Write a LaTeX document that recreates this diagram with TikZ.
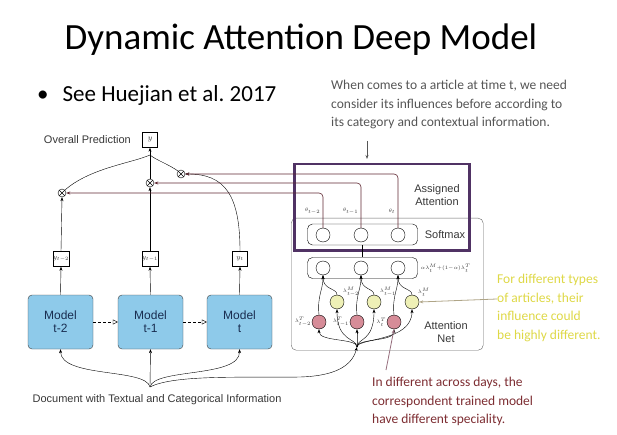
\documentclass[tikz,border=0pt]{standalone}
\usepackage{fontspec}
\setmainfont{Liberation Sans}
\newfontfamily\slidefont{Carlito}
\usetikzlibrary{arrows.meta,positioning}

\definecolor{modelblue}{RGB}{142,202,234}
\definecolor{attnpurple}{RGB}{80,50,100}
\definecolor{linkred}{RGB}{95,40,50}
\definecolor{lampink}{RGB}{214,140,152}
\definecolor{lamyellow}{RGB}{238,240,182}
\definecolor{notegray}{RGB}{85,85,85}
\definecolor{noteyellow}{RGB}{222,216,70}
\definecolor{notered}{RGB}{125,45,50}
\definecolor{diagtext}{RGB}{55,55,55}

\begin{document}
\begin{tikzpicture}[x=1pt, y=-1pt, >={Stealth[length=4pt,width=3pt]},
	model/.style={draw=black!75, fill=modelblue, rounded corners=4pt, minimum width=65pt, minimum height=54pt, align=center, font=\fontsize{12}{13}\selectfont, text={rgb,255:red,25;green,45;blue,80}},
	ybox/.style={draw, fill=white, inner sep=0pt, minimum width=15pt, minimum height=15pt, font=\fontsize{7}{8}\selectfont, text=diagtext},
	mult/.style={circle, draw, fill=white, inner sep=0pt, minimum size=8pt, path picture={\draw (path picture bounding box.north west) -- (path picture bounding box.south east) (path picture bounding box.north east) -- (path picture bounding box.south west);}},
	unit/.style={circle, draw, fill=white, inner sep=0pt, minimum size=14pt},
	lamT/.style={unit, fill=lampink},
	lamM/.style={unit, fill=lamyellow},
	layer/.style={draw, rounded corners=5pt, minimum width=110pt, minimum height=21pt},
	small/.style={font=\fontsize{5.5}{6}\selectfont, text=diagtext, inner sep=0.5pt},
	label/.style={font=\fontsize{11}{13}\selectfont, text=diagtext, align=center},
	note/.style={font=\slidefont\fontsize{13.5}{18.5}\selectfont, align=left, inner sep=0pt},
	link/.style={->, draw=linkred, line width=0.6pt, rounded corners=4pt}]
	\useasboundingbox (0,0) rectangle (617,435);

	% slide text
	\node[font=\slidefont\fontsize{37}{40}\selectfont] (title) at (301,40) {Dynamic Attention Deep Model};
	\node[font=\slidefont\fontsize{23}{26}\selectfont, anchor=west, inner sep=0pt] (ref) at (37,95) {\textbullet\hspace{14pt}See Huejian et al.\ 2017};
	\node[note, text=notegray, anchor=north west] (topnote) at (331,80) {When comes to a article at time t, we need\\consider its influences before according to\\its category and contextual information.};

	% boxes on the right
	\node[draw=black!60, rounded corners=5pt, anchor=north west, minimum width=192pt, minimum height=132pt] (attnnet) at (291,218) {};
	\node[draw=attnpurple, line width=2.5pt, anchor=north west, minimum width=175pt, minimum height=86pt] (assign) at (293,163) {};
	\node[label, anchor=north] at (437,181) {Assigned\\Attention};
	\node[label, anchor=north] at (446,318) {Attention\\Net};

	% softmax and mixing layers
	\node[layer] (softmax) at (362.5,234.5) {};
	\node[layer] (mix) at (362.5,268) {};
	\node[label] at (445,235) {Softmax};
	\node[small, anchor=west] at (420,268) {$\alpha\lambda^{M}_{t}{+}(1{-}\alpha)\lambda^{T}_{t}$};
	\node[unit] (s1) at (323,235) {};
	\node[unit] (s2) at (361,235) {};
	\node[unit] (s3) at (398,235) {};
	\node[unit] (m1) at (323,268) {};
	\node[unit] (m2) at (361,268) {};
	\node[unit] (m3) at (398,268) {};
	\draw (softmax.south) -- (mix.north);
	\node[small, anchor=east] at (321,211) {$\theta_{t-2}$};
	\node[small, anchor=east] at (359,211) {$\theta_{t-1}$};
	\node[small, anchor=east] at (396,211) {$\theta_{t}$};

	% attention net units
	\node[lamT] (p1) at (319,322) {};
	\node[lamT] (p2) at (357,322) {};
	\node[lamT] (p3) at (394,322) {};
	\node[lamM] (q1) at (337,302) {};
	\node[lamM] (q2) at (374,302) {};
	\node[lamM] (q3) at (412,302) {};
	\node[small, anchor=east] at (p1.west) {$\lambda^{T}_{t-2}$};
	\node[small, anchor=east] at (p2.west) {$\lambda^{T}_{t-1}$};
	\node[small, anchor=east] at (p3.west) {$\lambda^{T}_{t}$};
	\node[small, anchor=south west] at (q1.north east) {$\lambda^{M}_{t-2}$};
	\node[small, anchor=south west] at (q2.north east) {$\lambda^{M}_{t-1}$};
	\node[small, anchor=south west] at (q3.north east) {$\lambda^{M}_{t}$};
	\coordinate (netin) at (357,347);
	\foreach \n in {p1,p2,p3,q1,q2,q3}
		\draw[->] (netin) .. controls (357,338) and (\n.south |- 0,342) .. (\n.south);
	\draw[->] (p1.north) .. controls (317,296) and (323,290) .. (m1.south);
	\draw[->] (q1.north) .. controls (337,288) and (323,290) .. (m1.south);
	\draw[->] (p2.north) .. controls (355,296) and (361,290) .. (m2.south);
	\draw[->] (q2.north) .. controls (374,288) and (361,290) .. (m2.south);
	\draw[->] (p3.north) .. controls (392,296) and (398,290) .. (m3.south);
	\draw[->] (q3.north) .. controls (412,288) and (398,290) .. (m3.south);

	% models and predictions
	\node[model] (mt2) at (60.5,322) {Model\\t-2};
	\node[model] (mt1) at (150.5,322) {Model\\t-1};
	\node[model] (mt) at (239.5,322) {Model\\t};
	\draw[densely dashed, -{Triangle[open,length=5pt,width=5pt]}] (mt2) -- (mt1);
	\draw[densely dashed, -{Triangle[open,length=5pt,width=5pt]}] (mt1) -- (mt);
	\node[ybox] (yt2) at (61,259) {$y_{t-2}$};
	\node[ybox] (yt1) at (150,259) {$y_{t-1}$};
	\node[ybox] (yt) at (240,259) {$y_{t}$};
	\foreach \a/\b in {mt2/yt2, mt1/yt1, mt/yt}
		\draw[->] (\a.north) -- (\b.south);
	\node[mult] (xt2) at (62,193) {};
	\node[mult] (xt1) at (150,183) {};
	\node[mult] (xt) at (181,174) {};
	\node[ybox, font=\fontsize{8}{9}\selectfont] (yall) at (150,140) {$y$};
	\node[label, left=8pt of yall] (overall) {Overall Prediction};
	\coordinate (merge) at (150,155);
	\draw[->] (yt2.north) -- (xt2.south);
	\draw[->] (yt1.north) -- (xt1.south);
	\draw[->] (yt.north) .. controls (240,195) and (225,174) .. (xt.east);
	\draw (xt2.north east) .. controls (90,168) and (132,163) .. (merge);
	\draw (xt.north west) .. controls (168,164) and (156,160) .. (merge);
	\draw (xt1.north) -- (merge);
	\draw[->] (merge) -- (yall.south);

	% assigned attention to the products
	\draw[link] (s3.north) |- (xt.east);
	\draw[link] (s2.north) |- (xt1.east);
	\draw[link] (s1.north) |- (xt2.east);

	% document input
	\node[label] (doc) at (157,400) {Document with Textual and Categorical Information};
	\coordinate (docin) at (150,387);
	\draw[->] (docin) .. controls (146,368) and (61,378) .. (mt2.south);
	\draw[->] (docin) -- (mt1.south);
	\draw[->] (docin) .. controls (154,368) and (240,378) .. (mt.south);
	\draw[->] (docin) .. controls (175,374) and (250,378) .. (300,377) .. controls (335,376) and (352,366) .. (netin);

	% notes
	\coordinate (topnotetip) at (367,141);
	\draw[->, notegray, thick] (topnotetip) -- (367,159);
	\node[note, text=noteyellow, anchor=north west] (typenote) at (497,274) {For different types\\of articles, their\\influence could\\be highly different.};
	\draw[->, draw={rgb,255:red,175;green,165;blue,135}, thick] (typenote.west |- 0,299) -- (q3.east);
	\node[note, text=notered, anchor=north west] (daynote) at (372,377) {In different across days, the\\correspondent trained model\\have different speciality.};
	\coordinate (daytail) at (386,370);
	\draw[->, draw={rgb,255:red,150;green,110;blue,125}, thick] (daytail) -- (p3.south);
\end{tikzpicture}
\end{document}
